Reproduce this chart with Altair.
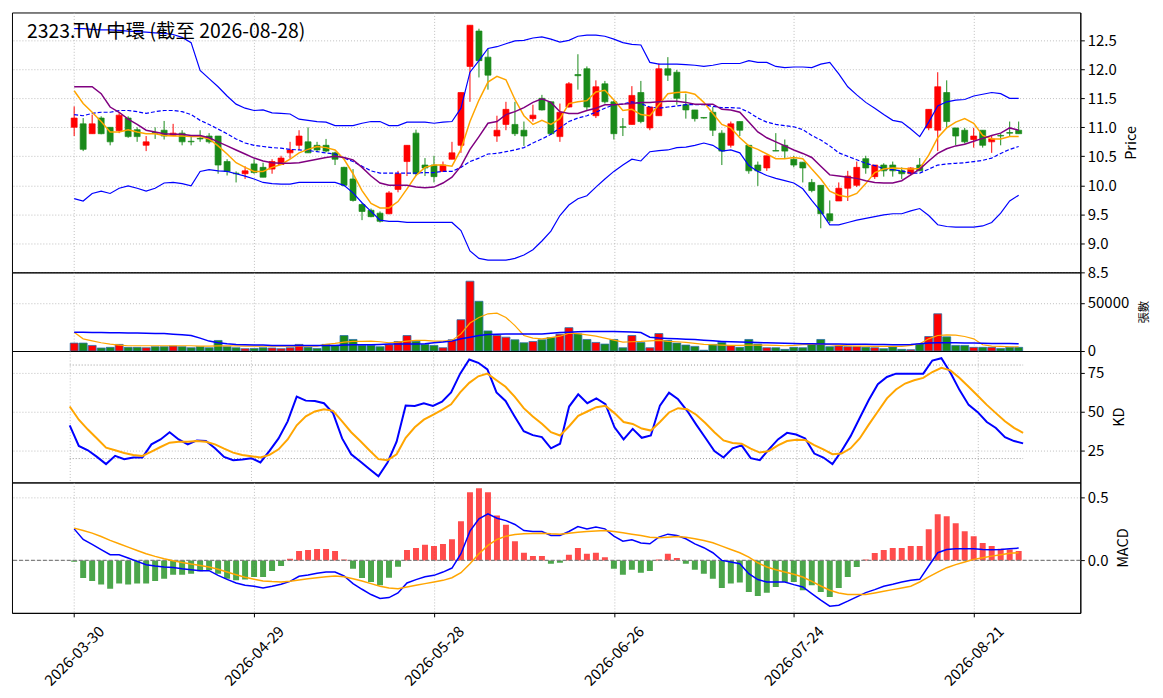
import altair as alt
import pandas as pd

FONT = "Noto Sans CJK TC"
TITLE = "2323.TW 中環 (截至 2026-08-28)"

holidays = ["2026-04-03", "2026-04-06", "2026-05-01", "2026-06-19"]
dates = [d.strftime("%Y-%m-%d") for d in pd.bdate_range("2026-03-30", "2026-08-28")
         if d.strftime("%Y-%m-%d") not in holidays]
tick_idx = [0, 20, 40, 60, 80, 100]

opens = [11.00,11.06,10.89,11.16,11.00,10.94,11.16,10.96,10.69,10.91,
 10.95,10.86,10.90,10.76,10.81,10.85,10.85,10.41,10.21,10.20,
 10.37,10.31,10.28,10.36,10.56,10.69,10.75,10.69,10.69,10.56,
 10.31,10.11,9.67,9.57,9.52,9.51,9.93,10.41,10.90,10.35,
 10.35,10.24,10.45,10.69,12.05,12.66,12.21,10.85,11.05,11.05,
 10.95,11.15,11.50,11.44,10.84,11.35,11.91,12.01,11.20,11.75,
 11.44,11.01,11.05,11.60,10.99,11.20,12.01,11.95,11.39,11.30,
 11.17,11.26,10.90,10.69,11.10,10.69,10.35,10.30,10.60,10.69,
 10.45,10.40,10.05,10.00,9.51,9.73,9.95,10.00,10.46,10.15,
 10.35,10.35,10.25,10.20,10.35,10.99,10.95,11.60,10.99,10.95,
 10.79,10.95,10.75,10.86,10.91,10.95]
highs = [11.36,11.16,11.22,11.19,11.00,11.26,11.19,11.00,10.85,11.00,
 11.11,11.06,10.95,10.85,10.95,10.90,10.85,10.45,10.24,10.33,
 10.45,10.39,10.45,10.51,10.75,10.95,11.00,10.75,10.80,10.58,
 10.32,10.28,9.69,9.60,9.55,9.90,10.25,10.69,10.96,10.47,
 10.51,10.41,10.75,11.60,12.76,12.70,12.35,11.20,11.44,11.44,
 11.10,11.39,11.56,11.44,11.41,11.78,12.26,12.05,11.81,11.80,
 11.46,11.16,11.71,11.80,11.35,12.10,12.21,11.99,11.58,11.30,
 11.17,11.35,10.95,11.10,11.10,10.69,10.41,10.51,10.90,10.79,
 10.51,10.40,10.11,10.00,9.74,10.05,10.25,10.41,10.51,10.35,
 10.38,10.41,10.31,10.31,10.47,11.31,11.95,11.81,10.99,10.99,
 10.99,10.95,10.85,10.89,11.10,11.10]
lows = [10.85,10.59,10.89,10.88,10.69,10.90,10.82,10.75,10.59,10.80,
 10.79,10.85,10.69,10.69,10.75,10.72,10.20,10.17,10.05,10.11,
 10.20,10.14,10.20,10.35,10.46,10.61,10.56,10.58,10.57,10.35,
 9.98,9.72,9.40,9.45,9.36,9.50,9.88,10.16,10.16,10.16,
 10.05,10.24,10.45,10.56,11.44,11.86,11.65,10.75,10.95,10.85,
 10.68,11.10,11.29,10.87,10.75,11.34,11.65,11.30,11.16,11.41,
 10.79,10.85,11.05,11.07,10.95,11.20,11.80,11.39,11.15,11.10,
 11.15,10.85,10.35,10.65,10.85,10.20,9.99,10.25,10.59,10.47,
 10.31,10.05,9.88,9.26,9.35,9.73,9.73,9.97,10.20,10.11,
 10.15,10.15,10.11,10.17,10.25,10.95,10.59,10.99,10.69,10.72,
 10.65,10.65,10.56,10.69,10.85,10.89]
closes = [11.16,10.62,11.06,10.89,10.75,11.21,10.84,10.84,10.75,10.90,
 10.85,10.90,10.75,10.75,10.80,10.75,10.35,10.24,10.20,10.25,
 10.22,10.14,10.41,10.47,10.61,10.85,10.56,10.61,10.59,10.45,
 10.00,9.74,9.55,9.46,9.38,9.87,10.20,10.69,10.20,10.30,
 10.15,10.35,10.56,11.60,12.76,12.15,11.90,10.95,11.31,10.89,
 10.85,11.21,11.30,10.89,11.26,11.75,11.89,11.35,11.70,11.44,
 10.89,11.00,11.55,11.10,11.35,12.01,11.90,11.50,11.30,11.15,
 11.16,10.95,10.59,11.06,10.95,10.25,10.25,10.51,10.59,10.59,
 10.35,10.30,9.91,9.51,9.39,9.95,10.16,10.31,10.30,10.35,
 10.25,10.25,10.20,10.30,10.25,11.31,11.70,11.10,10.85,10.75,
 10.85,10.69,10.80,10.85,10.90,10.89]

bb_up = [12.70,12.70,12.69,12.68,12.68,12.67,12.66,12.65,12.64,12.63,
 12.62,12.60,12.55,12.46,11.98,11.84,11.70,11.54,11.40,11.33,
 11.29,11.30,11.25,11.24,11.23,11.14,11.12,11.10,11.09,11.03,
 11.03,11.03,11.07,11.10,11.10,11.03,11.03,11.09,11.09,11.09,
 11.07,11.09,11.10,11.33,11.95,12.15,12.36,12.39,12.44,12.49,
 12.50,12.54,12.56,12.52,12.47,12.50,12.57,12.59,12.59,12.57,
 12.52,12.46,12.43,12.42,12.12,12.09,12.09,12.09,12.08,12.07,
 12.05,12.07,12.10,12.10,12.10,12.15,12.12,12.12,12.05,12.03,
 12.04,12.04,12.03,12.09,12.12,11.92,11.70,11.56,11.43,11.33,
 11.22,11.12,11.09,10.97,10.84,11.09,11.37,11.44,11.47,11.48,
 11.54,11.57,11.60,11.58,11.50,11.50]
bb_mid = [11.22,11.20,11.24,11.26,11.26,11.29,11.29,11.27,11.24,11.27,
 11.29,11.29,11.27,11.22,11.12,11.05,10.97,10.89,10.80,10.73,
 10.69,10.67,10.65,10.64,10.62,10.61,10.60,10.58,10.56,10.54,
 10.47,10.41,10.33,10.25,10.21,10.21,10.21,10.21,10.21,10.22,
 10.22,10.24,10.24,10.31,10.41,10.47,10.54,10.55,10.58,10.61,
 10.65,10.73,10.80,10.88,10.99,11.10,11.16,11.20,11.26,11.33,
 11.39,11.40,11.44,11.41,11.35,11.33,11.35,11.37,11.39,11.39,
 11.39,11.36,11.34,11.34,11.33,11.26,11.16,11.09,11.05,11.03,
 11.01,10.96,10.86,10.78,10.68,10.56,10.50,10.44,10.38,10.34,
 10.29,10.27,10.25,10.21,10.21,10.28,10.35,10.37,10.38,10.39,
 10.41,10.43,10.47,10.55,10.62,10.67]
bb_lo = [9.77,9.73,9.86,9.90,9.86,9.95,9.99,9.95,9.90,9.95,
 10.04,10.05,10.03,9.99,10.24,10.27,10.25,10.24,10.20,10.16,
 10.11,10.05,10.03,10.02,10.02,10.05,10.05,10.05,10.05,10.05,
 10.00,9.87,9.70,9.55,9.40,9.38,9.38,9.36,9.36,9.36,
 9.36,9.36,9.36,9.22,8.87,8.74,8.71,8.71,8.71,8.74,
 8.80,8.89,9.04,9.21,9.48,9.66,9.77,9.82,9.97,10.11,
 10.24,10.35,10.45,10.42,10.58,10.60,10.61,10.65,10.66,10.69,
 10.73,10.69,10.59,10.61,10.56,10.34,10.24,10.17,10.12,10.08,
 10.04,9.94,9.74,9.55,9.32,9.32,9.36,9.40,9.43,9.46,
 9.49,9.51,9.51,9.56,9.60,9.48,9.32,9.29,9.28,9.28,
 9.28,9.30,9.36,9.52,9.73,9.83]
ma5 = [11.63,11.41,11.26,11.10,10.92,10.92,10.96,10.92,10.89,10.89,
 10.86,10.85,10.85,10.84,10.84,10.80,10.68,10.54,10.39,10.31,
 10.24,10.24,10.31,10.36,10.45,10.56,10.62,10.67,10.65,10.61,
 10.45,10.20,9.91,9.69,9.61,9.61,9.72,9.94,10.17,10.31,
 10.35,10.35,10.33,10.62,11.10,11.47,11.78,11.88,11.82,11.48,
 11.20,11.05,11.12,11.05,11.15,11.41,11.44,11.46,11.61,11.64,
 11.47,11.29,11.31,11.22,11.20,11.39,11.58,11.60,11.61,11.57,
 11.43,11.24,11.05,10.99,10.82,10.68,10.62,10.54,10.46,10.46,
 10.48,10.46,10.28,10.11,9.90,9.83,9.80,9.86,10.03,10.22,
 10.28,10.30,10.29,10.28,10.29,10.52,10.82,10.99,11.09,11.15,
 11.07,10.86,10.80,10.80,10.84,10.84]
ma10 = [11.70,11.70,11.70,11.58,11.35,11.26,11.14,11.05,10.95,10.92,
 10.89,10.88,10.88,10.86,10.86,10.82,10.75,10.68,10.61,10.54,
 10.47,10.42,10.39,10.38,10.38,10.39,10.42,10.45,10.48,10.50,
 10.48,10.44,10.31,10.16,10.04,10.00,10.00,10.00,9.97,9.96,
 9.97,10.04,10.14,10.33,10.62,10.84,11.07,11.10,11.22,11.27,
 11.34,11.43,11.49,11.43,11.27,11.24,11.24,11.29,11.33,11.39,
 11.39,11.40,11.41,11.43,11.43,11.44,11.45,11.45,11.43,11.40,
 11.40,11.40,11.31,11.30,11.26,11.09,10.92,10.82,10.75,10.68,
 10.61,10.55,10.48,10.33,10.18,10.16,10.14,10.12,10.08,10.05,
 10.04,10.04,10.08,10.18,10.28,10.42,10.55,10.63,10.68,10.71,
 10.76,10.81,10.86,10.90,10.99,10.95]

volume = [8220,8220,5800,3100,3800,6850,3800,3800,3400,4450,
 4450,5100,4450,3400,4450,3400,10960,4450,3400,2400,
 2700,3400,3100,2400,3400,6850,3800,2700,6850,5800,
 16100,12000,5800,5800,4450,6500,9900,16100,10270,6850,
 5800,3400,11650,32540,72600,51700,20900,16100,14400,11650,
 8560,9900,11650,14000,17470,24300,17800,12000,8900,7200,
 12000,3400,16100,8900,3400,18150,10960,8220,6160,4800,
 800,6850,8900,5480,3800,12000,7200,3400,3400,1700,
 3800,3400,7500,12000,4450,5100,4450,4450,3800,3400,
 2400,4100,1700,1400,7200,15070,38700,14700,5800,5800,
 3800,3800,3800,2700,3800,3800]
vol_ma5 = [19500,12670,10600,8560,7190,6165,5480,5480,5480,5480,
 5480,5480,5480,5480,5140,5140,5300,5300,5300,5140,
 5140,5140,5140,5140,5140,5140,5140,5140,6850,7900,
 9250,9930,9930,10275,9600,8560,9250,10275,10960,10960,
 10275,10275,10960,17810,29100,34900,38700,39400,34900,26400,
 16100,13360,12670,14000,15400,18500,18150,16800,15400,13360,
 11300,9250,9600,9930,10600,10960,9930,9600,8900,7900,
 6850,6500,6160,5820,5820,6160,6160,6160,5820,5480,
 5820,6500,6850,6850,6500,5820,5480,5140,5140,4800,
 4800,4800,4800,5820,7535,12670,16100,16800,16440,15070,
 12670,6500,5140,4800,4450,4450]
vol_ma20 = [19500,19400,19300,19200,19100,18900,18840,18700,18500,18300,
 18100,17500,16800,16100,13360,10300,8560,7500,6800,6500,
 6200,6160,5820,5820,5820,5820,5820,5820,5820,5820,
 6160,6500,6500,6500,6850,7190,7190,7190,7190,7500,
 8560,9250,10275,12670,14385,16100,17125,17470,17810,17810,
 17810,17810,17810,18500,19200,19500,19900,20200,20200,20200,
 20200,20000,19800,19200,14400,13500,13000,12670,12300,11900,
 11300,10600,10000,9600,9250,9000,8800,8600,8300,8000,
 7800,7600,7500,7400,7300,7200,7100,7000,6900,6800,
 6700,6600,6500,6800,7500,8220,8500,8560,8560,8400,
 8200,8000,7900,7800,7700,7535]

k_val = [41.35,28.06,25.32,21.10,16.46,21.73,19.62,20.68,20.68,29.11,
 32.28,36.92,32.28,29.11,31.65,31.22,26.58,21.10,18.99,19.41,
 20.25,17.51,24.89,32.91,43.88,59.70,57.17,56.96,55.49,49.16,
 32.91,22.78,18.14,13.29,8.65,17.51,30.80,54.00,53.80,55.49,
 53.80,56.54,62.45,74.47,83.54,81.43,77.22,62.45,56.96,47.05,
 37.55,35.02,33.76,26.58,29.54,53.38,61.18,55.49,58.65,54.85,
 40.08,32.28,39.03,33.33,34.81,54.00,62.24,58.02,50.63,41.77,
 33.33,24.89,20.68,26.58,28.48,20.25,18.99,25.95,32.28,36.50,
 35.44,32.91,23.21,20.68,16.46,24.89,34.39,45.99,57.59,67.72,
 72.36,74.47,74.47,74.47,74.47,82.91,84.39,75.10,63.92,54.43,
 49.79,43.46,39.66,33.76,31.22,29.75]
d_val = [53.38,44.94,38.61,32.91,27.00,25.32,23.63,22.36,21.73,24.47,
 27.43,30.17,30.80,30.80,31.22,30.80,29.11,26.37,23.84,22.36,
 21.52,20.68,22.36,25.95,32.28,41.35,47.05,50.21,51.69,50.63,
 43.88,36.92,31.22,25.32,19.62,18.99,22.78,33.33,40.08,44.94,
 48.10,51.27,54.85,62.45,68.57,72.78,74.47,70.25,66.03,59.70,
 52.32,47.05,42.30,36.92,34.81,40.72,47.47,50.21,52.95,53.80,
 49.16,43.46,42.19,39.24,37.97,43.46,49.58,52.32,51.69,48.10,
 42.83,36.92,31.65,29.96,29.54,26.37,23.84,24.89,28.48,31.22,
 32.07,31.86,28.69,25.95,22.78,23.21,26.58,32.91,41.77,50.21,
 58.65,64.35,68.14,70.25,71.73,75.53,78.27,76.58,71.73,66.03,
 60.34,54.43,49.16,43.88,39.66,36.50]
kd_levels = [80, 20]

macd_hist = [-0.010,-0.140,-0.164,-0.193,-0.225,-0.185,-0.193,-0.185,-0.185,-0.164,
 -0.146,-0.114,-0.114,-0.106,-0.087,-0.079,-0.106,-0.146,-0.159,-0.153,
 -0.132,-0.132,-0.085,-0.045,0.013,0.074,0.082,0.090,0.090,0.074,
 0.008,-0.066,-0.140,-0.172,-0.198,-0.138,-0.050,0.082,0.098,0.124,
 0.114,0.130,0.169,0.312,0.542,0.574,0.542,0.357,0.283,0.153,
 0.061,0.034,0.034,-0.026,-0.019,0.045,0.098,0.053,0.061,0.026,
 -0.066,-0.114,-0.074,-0.098,-0.085,0.008,0.053,0.019,-0.026,-0.074,
 -0.106,-0.146,-0.220,-0.185,-0.177,-0.251,-0.283,-0.257,-0.212,-0.172,
 -0.172,-0.238,-0.198,-0.251,-0.291,-0.220,-0.132,-0.053,0.008,0.058,
 0.082,0.098,0.098,0.114,0.114,0.249,0.368,0.352,0.296,0.233,
 0.193,0.138,0.114,0.093,0.087,0.074]
dif = [0.251,0.167,0.127,0.085,0.045,0.045,0.019,-0.008,-0.034,-0.045,
 -0.053,-0.056,-0.066,-0.074,-0.082,-0.082,-0.119,-0.151,-0.180,-0.198,
 -0.206,-0.220,-0.206,-0.190,-0.167,-0.127,-0.116,-0.103,-0.093,-0.093,
 -0.124,-0.185,-0.230,-0.272,-0.304,-0.296,-0.259,-0.180,-0.153,-0.130,
 -0.119,-0.093,-0.061,0.053,0.233,0.331,0.370,0.336,0.317,0.286,
 0.238,0.230,0.230,0.198,0.198,0.230,0.270,0.251,0.265,0.251,
 0.193,0.153,0.164,0.138,0.132,0.185,0.209,0.198,0.172,0.132,
 0.101,0.061,0.000,-0.013,-0.026,-0.106,-0.153,-0.172,-0.172,-0.172,
 -0.193,-0.212,-0.265,-0.317,-0.365,-0.357,-0.325,-0.291,-0.257,-0.233,
 -0.206,-0.190,-0.172,-0.159,-0.151,-0.045,0.061,0.087,0.093,0.093,
 0.093,0.087,0.085,0.087,0.093,0.098]
dea = [0.257,0.238,0.217,0.190,0.159,0.132,0.106,0.079,0.053,0.032,
 0.013,-0.003,-0.016,-0.029,-0.040,-0.053,-0.071,-0.093,-0.114,-0.135,
 -0.151,-0.164,-0.169,-0.172,-0.167,-0.156,-0.146,-0.138,-0.130,-0.124,
 -0.130,-0.146,-0.164,-0.185,-0.206,-0.220,-0.225,-0.212,-0.198,-0.185,
 -0.172,-0.159,-0.138,-0.098,-0.026,0.053,0.119,0.167,0.193,0.206,
 0.212,0.214,0.217,0.212,0.209,0.217,0.225,0.230,0.235,0.238,
 0.230,0.220,0.209,0.198,0.185,0.180,0.185,0.190,0.185,0.172,
 0.159,0.140,0.114,0.087,0.061,0.026,-0.019,-0.053,-0.074,-0.093,
 -0.111,-0.132,-0.167,-0.204,-0.238,-0.259,-0.272,-0.272,-0.272,-0.259,
 -0.246,-0.233,-0.220,-0.206,-0.172,-0.132,-0.093,-0.058,-0.034,-0.013,
 0.008,0.021,0.034,0.045,0.056,0.061]

series = dict(opens=opens, highs=highs, lows=lows, closes=closes, bb_up=bb_up,
              bb_mid=bb_mid, bb_lo=bb_lo, ma5=ma5, ma10=ma10, volume=volume,
              vol_ma5=vol_ma5, vol_ma20=vol_ma20, k_val=k_val, d_val=d_val,
              macd_hist=macd_hist, dif=dif, dea=dea)
for name, arr in series.items():
    assert len(arr) == len(dates), (name, len(arr), len(dates))

df = pd.DataFrame(series)
df["i"] = range(len(dates))
df["date"] = dates
df["dir"] = ["up" if c >= o else "down" for o, c in zip(opens, closes)]
df["hdir"] = ["pos" if h >= 0 else "neg" for h in macd_hist]

W = 1073
XDOM = [-6.36, 111.3]
label_arr = "[" + ",".join("'%s'" % d for d in dates) + "]"

GRID = dict(grid=True, gridColor="#b0b0b0", gridDash=[1, 2], gridWidth=0.8)
TXT = dict(labelFont=FONT, titleFont=FONT, labelColor="black", titleColor="black",
           titleFontWeight=400, tickColor="black", domainColor="black")
xscale = alt.Scale(domain=XDOM, nice=False, zero=False)
x_hidden = alt.X("i:Q", scale=xscale, title=None,
                 axis=alt.Axis(values=tick_idx, labels=False, ticks=False, domain=False,
                               minExtent=0, maxExtent=0, **GRID))
x_bottom = alt.X("i:Q", scale=xscale, title=None,
                 axis=alt.Axis(values=tick_idx, labelExpr=label_arr + "[datum.value]",
                               labelAngle=315, labelAlign="center", labelBaseline="middle",
                               labelPadding=39, tickSize=4, labelFlush=False,
                               labelFontSize=15, labelOverlap=False, **GRID, **TXT))

dir_color = alt.Scale(domain=["up", "down"], range=["#ff0000", "#1a8a1a"])


def yax(values, title_x, fmt=None, title_size=14.5):
    kw = dict(orient="right", values=values, tickSize=4, labelPadding=3,
              labelOverlap=False, labelFlush=False, labelFontSize=15,
              titleAngle=270, titleFontSize=title_size, titleX=title_x,
              titleBaseline="middle", titleAlign="center", **GRID, **TXT)
    if fmt:
        kw["format"] = fmt
    return alt.Axis(**kw)


base = alt.Chart(df)

# ---------- price panel ----------
pscale = alt.Scale(domain=[8.5, 12.98], nice=False, zero=False)
pax = yax([8.5, 9.0, 9.5, 10.0, 10.5, 11.0, 11.5, 12.0, 12.5], 51, ".1f")


def py(field):
    return alt.Y(field + ":Q", scale=pscale, axis=pax, title="Price")


wick = base.mark_rule(strokeWidth=1, clip=True).encode(
    x=x_hidden, y=py("lows"), y2="highs",
    color=alt.Color("dir:N", scale=dir_color, legend=None))
body = base.mark_bar(size=6, strokeWidth=0.7, clip=True).encode(
    x=x_hidden, y=py("opens"), y2="closes",
    color=alt.Color("dir:N", scale=dir_color, legend=None),
    stroke=alt.Stroke("dir:N", scale=dir_color, legend=None))
l_up = base.mark_line(color="#0000ff", strokeWidth=1.2, clip=True).encode(x=x_hidden, y=py("bb_up"))
l_mid = base.mark_line(color="#0000ff", strokeWidth=1.2, strokeDash=[4, 2], clip=True).encode(x=x_hidden, y=py("bb_mid"))
l_lo = base.mark_line(color="#0000ff", strokeWidth=1.2, clip=True).encode(x=x_hidden, y=py("bb_lo"))
l_ma5 = base.mark_line(color="#ffa500", strokeWidth=1.5, clip=True).encode(x=x_hidden, y=py("ma5"))
l_ma10 = base.mark_line(color="#800080", strokeWidth=1.5, clip=True).encode(x=x_hidden, y=py("ma10"))
title_txt = alt.Chart(pd.DataFrame({"t": [TITLE]})).mark_text(
    align="left", baseline="middle", font=FONT, fontSize=19.5, color="black").encode(
    x=alt.value(15), y=alt.value(20), text="t:N")
price = alt.layer(wick, body, l_up, l_mid, l_lo, l_ma5, l_ma10, title_txt).properties(width=W, height=261)

# ---------- volume panel ----------
vscale = alt.Scale(domain=[0, 81800], nice=False, zero=True)
vax = yax([0, 50000], 64, "d", title_size=11.5)


def vy(field):
    return alt.Y(field + ":Q", scale=vscale, axis=vax, title="張數")


vbar = base.mark_bar(size=8, stroke="#2a70a8", strokeWidth=0.8, clip=True).encode(
    x=x_hidden, y=vy("volume"), y2=alt.datum(0),
    color=alt.Color("dir:N", scale=dir_color, legend=None))
v5 = base.mark_line(color="#ffa500", strokeWidth=1.2, clip=True).encode(x=x_hidden, y=vy("vol_ma5"))
v20 = base.mark_line(color="#0000ff", strokeWidth=1.5, clip=True).encode(x=x_hidden, y=vy("vol_ma20"))
vol = alt.layer(vbar, v5, v20).properties(width=W, height=79)

# ---------- KD panel ----------
kscale = alt.Scale(domain=[4.7, 89.0], nice=False, zero=False)
kax = yax([25, 50, 75], 39, "d")


def ky(field):
    return alt.Y(field + ":Q", scale=kscale, axis=kax, title="KD")


lv = alt.Chart(pd.DataFrame({"lvl": kd_levels})).mark_rule(
    color="#999999", strokeWidth=1, strokeDash=[1, 2]).encode(
    x=alt.datum(0), x2=alt.datum(len(dates) - 1), y=ky("lvl"))
kl = base.mark_line(color="#0000ff", strokeWidth=2, clip=True).encode(x=x_hidden, y=ky("k_val"))
dl = base.mark_line(color="#ffa500", strokeWidth=2, clip=True).encode(x=x_hidden, y=ky("d_val"))
kd = alt.layer(lv, kl, dl).properties(width=W, height=132)

# ---------- MACD panel ----------
mscale = alt.Scale(domain=[-0.418, 0.621], nice=False, zero=False)
max_ = yax([0.0, 0.5], 43, ".1f")


def my(field):
    return alt.Y(field + ":Q", scale=mscale, axis=max_, title="MACD")


zero = alt.Chart(pd.DataFrame({"z": [0.0]})).mark_rule(
    color="#808080", strokeWidth=1.3, strokeDash=[4, 2]).encode(y=my("z"))
hbar = base.mark_bar(size=6, opacity=0.7, clip=True).encode(
    x=x_bottom, y=my("macd_hist"), y2=alt.datum(0),
    color=alt.Color("hdir:N", scale=alt.Scale(domain=["pos", "neg"], range=["#ff0000", "#008000"]), legend=None))
difl = base.mark_line(color="#0000ff", strokeWidth=1.5, clip=True).encode(x=x_bottom, y=my("dif"))
deal = base.mark_line(color="#ffa500", strokeWidth=1.5, clip=True).encode(x=x_bottom, y=my("dea"))
macd = alt.layer(hbar, zero, difl, deal).properties(width=W, height=131)

chart = alt.vconcat(price, vol, kd, macd, spacing=0, bounds="flush").resolve_scale(
    color="independent").properties(
    padding={"left": 2, "top": 2, "right": 5, "bottom": 5}, background="white"
).configure_view(stroke="black", strokeWidth=1)

chart.save("out.html", embed_options={"renderer": "svg", "actions": False})
